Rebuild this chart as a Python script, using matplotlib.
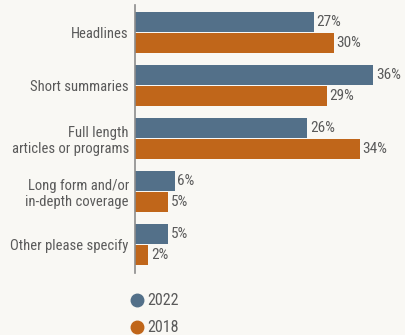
import numpy as np
import matplotlib
matplotlib.use('Agg')
import matplotlib.pyplot as plt
from matplotlib.lines import Line2D
from matplotlib import font_manager

# narrow sans if available, else the nearest fallback
family = 'Roboto'
for name in ['Liberation Sans Narrow', 'Roboto Condensed', 'Roboto']:
    try:
        font_manager.findfont(name, fallback_to_default=False)
        family = name
        break
    except Exception:
        pass
plt.rcParams['font.family'] = [family, 'DejaVu Sans']

categories = ['Headlines', 'Short summaries', 'Full length\narticles or programs',
              'Long form and/or\nin-depth coverage', 'Other please specify']
vals_2022 = [27, 36, 26, 6, 5]
vals_2018 = [30, 29, 34, 5, 2]
series_names = ['2022', '2018']

c2022 = '#537089'
c2018 = '#c0661a'
bg = '#f9f8f4'
txt = '#5a5a5a'

fig = plt.figure(figsize=(4.05, 3.35), dpi=100, facecolor=bg)
ax = fig.add_axes([135 / 405, (335 - 273) / 335, 270 / 405, 268 / 335])
ax.set_facecolor(bg)

pitch = 53
centers = 32.5 + np.arange(len(categories)) * pitch - 5
h = 20
ax.barh(centers - 10.5, vals_2022, height=h, color=c2022)
ax.barh(centers + 10.5, vals_2018, height=h, color=c2018)

fs = 10.5
for y, v in zip(centers - 10.5, vals_2022):
    ax.text(v + 0.4, y, f'{v}%', va='center', ha='left', fontsize=fs + 0.5, color=txt)
for y, v in zip(centers + 10.5, vals_2018):
    ax.text(v + 0.4, y, f'{v}%', va='center', ha='left', fontsize=fs + 0.5, color=txt)

ax.set_xlim(0, 270 / 6.62)
ax.set_ylim(268, 0)
ax.set_yticks(centers)
ax.set_yticklabels(categories, fontsize=fs, color=txt, linespacing=1.15)
ax.tick_params(axis='y', length=0, pad=4.5)
ax.set_xticks([])
for s in ['top', 'right', 'bottom']:
    ax.spines[s].set_visible(False)
ax.spines['left'].set_color('#8c8c8c')
ax.spines['left'].set_linewidth(1.2)

handles = [Line2D([], [], marker='o', linestyle='none', markersize=9, color=c)
           for c in (c2022, c2018)]
leg = fig.legend(handles, series_names, loc='upper left',
                 bbox_to_anchor=(121 / 405, 1 - 287 / 335), frameon=False,
                 fontsize=fs + 1, handletextpad=0.05, labelspacing=0.75,
                 handlelength=1.2, borderaxespad=0)
for t in leg.get_texts():
    t.set_color(txt)

fig.savefig('out.png', dpi=100, facecolor=bg)
